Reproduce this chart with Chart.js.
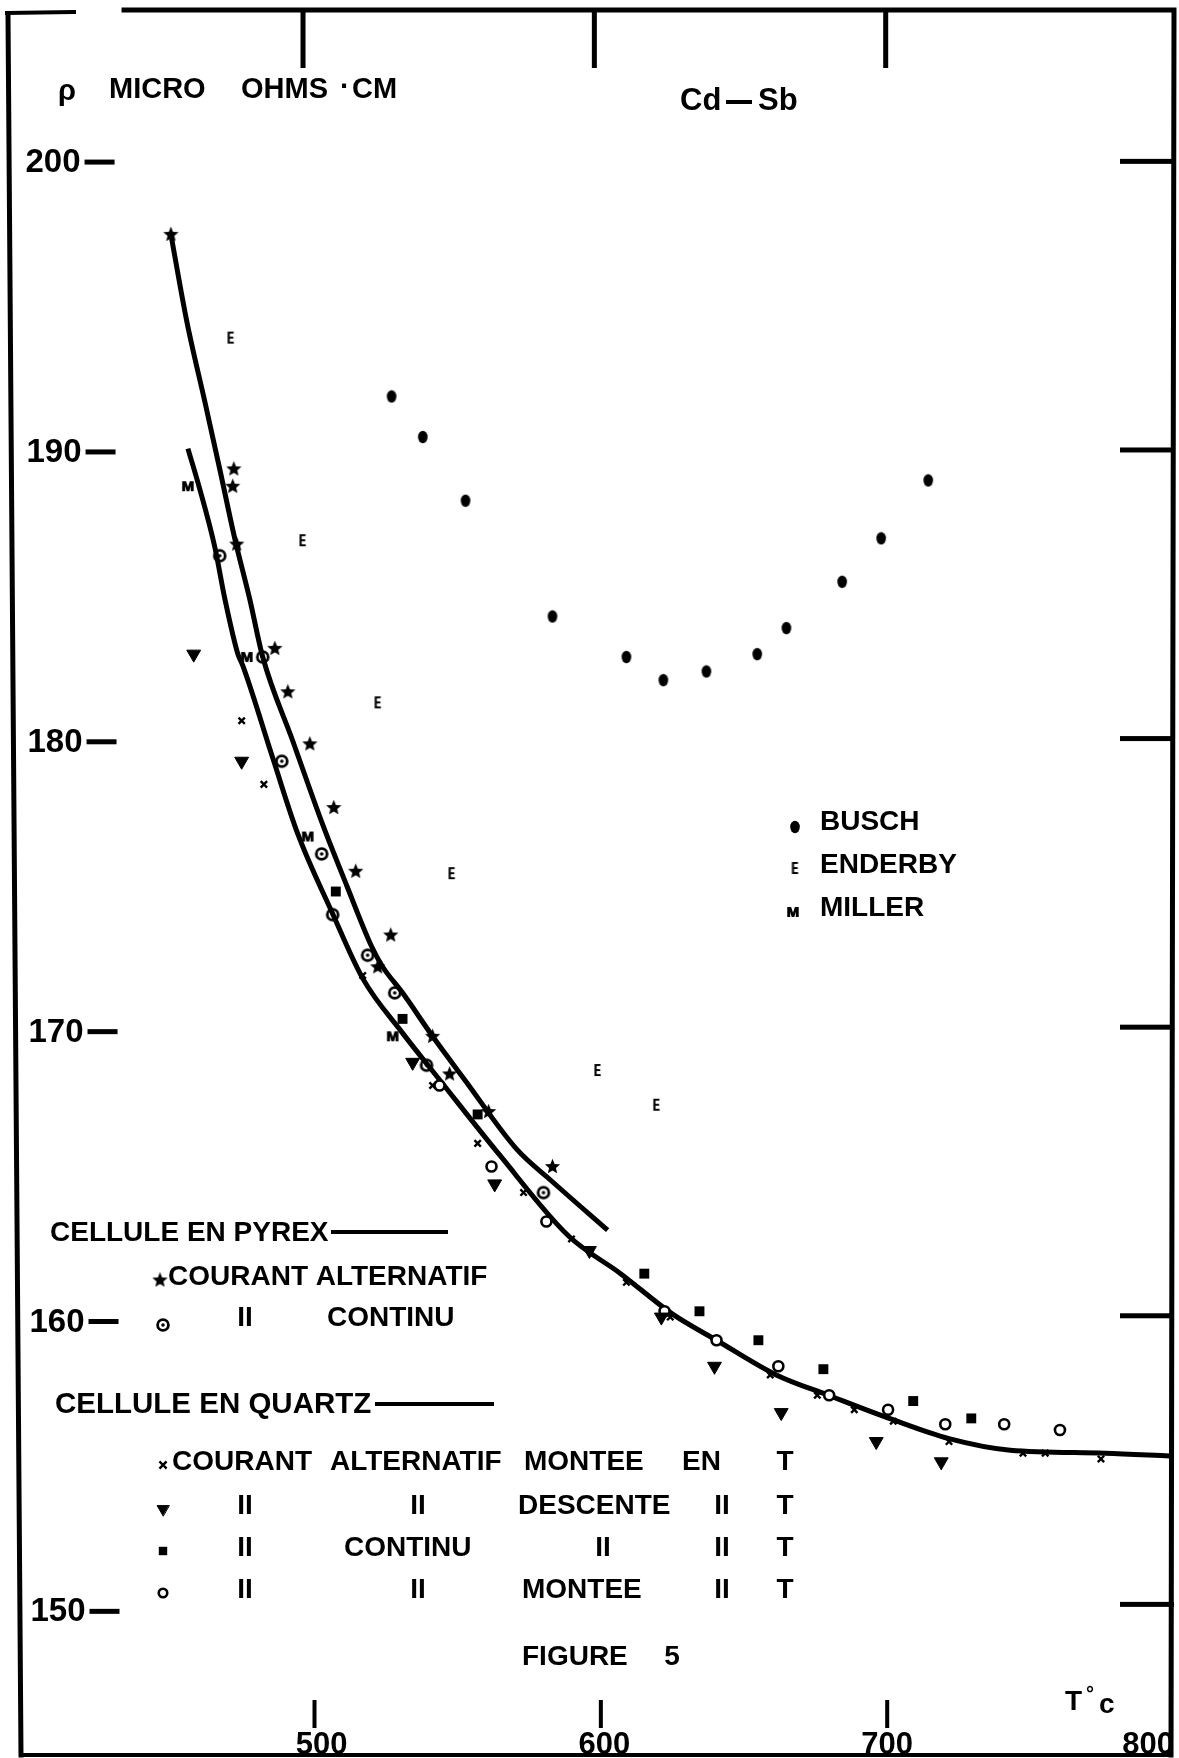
<!DOCTYPE html>
<html>
<head>
<meta charset="utf-8">
<script src="https://cdn.jsdelivr.net/npm/chart.js@4.4.1/dist/chart.umd.min.js"></script>
<style>
  html, body { margin: 0; padding: 0; background: #fff; }
  #wrap { position: relative; width: 1179px; height: 1758px; }
</style>
</head>
<body>
<div id="wrap"><canvas id="fig" width="1179" height="1758"></canvas></div>
<script>
// Cd-Sb resistivity (micro ohm cm) against temperature (deg C)

const xTicks = [500, 600, 700, 800];
const yTicks = [150, 160, 170, 180, 190, 200];

// drawn curves
const pyrexCurveT   = [452.7, 458.2, 464.5, 469.6, 474.8, 480.0, 484.5, 494.9, 505.3, 513.6, 522.2, 526.0, 532.9, 543.3, 554.4, 572.4, 584.5, 603.9];
const pyrexCurveRho = [197.6, 194.6, 191.8, 189.5, 187.1, 185.0, 183.0, 180.1, 177.2, 175.1, 173.0, 172.3, 171.4, 169.9, 168.4, 166.0, 164.9, 163.2];

const quartzCurveT   = [458.6, 462.7, 467.9, 471.4, 475.9, 477.6, 488.0, 496.6, 508.4, 519.1, 533.0, 545.7, 566.5, 590.4, 608.4, 626.4, 641.6, 662.3, 680.3, 701.4, 722.1, 743.3, 776.1, 798.5];
const quartzCurveRho = [190.2, 188.8, 186.8, 185.0, 183.1, 182.7, 179.5, 176.9, 174.2, 171.9, 170.0, 168.4, 165.8, 163.0, 161.7, 160.3, 159.4, 158.2, 157.5, 156.7, 156.0, 155.6, 155.5, 155.4];

// pyrex cell
const pyrexAcT   = [452.7, 474.5, 474.1, 475.5, 488.7, 493.2, 500.8, 509.1, 516.7, 528.8, 524.3, 543.3, 549.2, 562.7, 584.8];
const pyrexAcRho = [197.6, 189.5, 188.9, 186.9, 183.3, 181.8, 180.0, 177.8, 175.6, 173.4, 172.3, 169.9, 168.6, 167.3, 165.4];
const pyrexDcT   = [469.6, 484.5, 491.1, 504.9, 508.7, 520.8, 530.2, 541.2, 581.7];
const pyrexDcRho = [186.5, 183.0, 179.4, 176.2, 174.1, 172.7, 171.4, 168.9, 164.5];

// quartz cell
const quartzAcUpT     = [477.2, 484.9, 519.1, 543.3, 558.9, 574.8, 591.4, 610.4, 625.6, 660.2, 676.5, 689.3, 702.8, 722.1, 747.7, 755.4, 774.7];
const quartzAcUpRho   = [180.8, 178.6, 172.0, 168.2, 166.2, 164.5, 162.9, 161.4, 160.2, 158.2, 157.5, 157.0, 156.6, 155.9, 155.5, 155.5, 155.3];
const quartzAcDownT   = [460.6, 477.2, 536.4, 564.8, 597.6, 622.5, 640.9, 664.0, 696.9, 719.4];
const quartzAcDownRho = [183.1, 179.4, 169.0, 164.8, 162.5, 160.2, 158.5, 156.9, 155.9, 155.2];
const quartzDcT       = [509.8, 532.9, 558.9, 616.6, 635.7, 656.1, 678.6, 709.7, 729.8];
const quartzDcRho     = [174.9, 170.5, 167.2, 161.7, 160.4, 159.4, 158.4, 157.3, 156.7];
const quartzDcUpT     = [545.7, 563.7, 582.7, 623.6, 641.6, 663.0, 680.6, 701.0, 720.8, 741.2, 760.5];
const quartzDcUpRho   = [168.2, 165.4, 163.5, 160.4, 159.4, 158.5, 157.5, 157.0, 156.5, 156.5, 156.3];

// other authors
const buschT     = [529.1, 539.9, 554.7, 584.8, 610.4, 623.2, 638.1, 655.7, 665.8, 685.1, 698.6, 714.9];
const buschRho   = [192.0, 190.6, 188.4, 184.4, 183.0, 182.2, 182.5, 183.1, 184.0, 185.6, 187.1, 189.1];
const enderbyT   = [473.4, 498.3, 524.3, 549.9, 600.4, 620.8];
const enderbyRho = [194.0, 187.0, 181.4, 175.5, 168.7, 167.5];
const millerT    = [458.6, 479.0, 500.1, 529.5];
const millerRho  = [188.9, 183.0, 176.8, 169.9];

const FONT = '"Liberation Sans", Arial, sans-serif';

function pts(xs, ys) {
    return xs.map((t, i) => ({ x: t, y: ys[i] }));
}

function marker(w, h, draw) {
    const c = document.createElement('canvas');
    c.width = w;
    c.height = h;
    const g = c.getContext('2d');
    g.fillStyle = '#000';
    g.strokeStyle = '#000';
    draw(g, w, h);
    return c;
}

// letter markers get a second pass one pixel over so they read as heavy as the print
function letterMark(g, ch, size, sx, cx, cy) {
    g.font = 'bold ' + size + 'px ' + FONT;
    g.textAlign = 'center';
    g.textBaseline = 'middle';
    g.scale(sx, 1);
    g.fillText(ch, cx / sx, cy);
    g.fillText(ch, (cx + 0.8) / sx, cy);
}

const starImg = marker(17, 17, (g) => {
    g.beginPath();
    for (let i = 0; i < 10; i++) {
        const r = i % 2 ? 3.6 : 8;
        const a = -Math.PI / 2 + i * Math.PI / 5;
        g.lineTo(8.5 + r * Math.cos(a), 8.8 + r * Math.sin(a));
    }
    g.closePath();
    g.fill();
});
const circDotImg = marker(16, 16, (g) => {
    g.lineWidth = 2.8;
    g.beginPath(); g.arc(8, 8, 5.4, 0, Math.PI * 2); g.stroke();
    g.beginPath(); g.arc(8, 8, 1.8, 0, Math.PI * 2); g.fill();
});
const buschImg = marker(12, 14, (g) => {
    g.beginPath(); g.ellipse(6, 7, 4.8, 6.2, 0, 0, Math.PI * 2); g.fill();
});
const enderbyImg = marker(11, 16, (g) => letterMark(g, 'E', 16, 0.62, 5, 8.5));
const millerImg = marker(18, 16, (g) => letterMark(g, 'M', 15, 1, 8.6, 8.5));

const markerSets = [
    { data: pts(pyrexAcT, pyrexAcRho), pointStyle: starImg },
    { data: pts(pyrexDcT, pyrexDcRho), pointStyle: circDotImg },
    { data: pts(quartzAcUpT, quartzAcUpRho), pointStyle: 'crossRot', pointRadius: 4.5, pointBorderWidth: 2.4 },
    { data: pts(quartzAcDownT, quartzAcDownRho), pointStyle: 'triangle', pointRotation: 180, pointRadius: 8, pointBorderWidth: 1 },
    { data: pts(quartzDcT, quartzDcRho), pointStyle: 'rect', pointRadius: 7, pointBorderWidth: 0 },
    { data: pts(quartzDcUpT, quartzDcUpRho), pointStyle: 'circle', pointRadius: 5, pointBorderWidth: 2.6, pointBackgroundColor: '#fff' },
    { data: pts(buschT, buschRho), pointStyle: buschImg },
    { data: pts(enderbyT, enderbyRho), pointStyle: enderbyImg },
    { data: pts(millerT, millerRho), pointStyle: millerImg }
].map(d => Object.assign({
    showLine: false,
    order: 1,
    pointRadius: 6,
    pointBorderWidth: 0,
    pointBackgroundColor: '#000',
    pointBorderColor: '#000'
}, d));

const curveSets = [
    pts(pyrexCurveT, pyrexCurveRho),
    pts(quartzCurveT, quartzCurveRho)
].map(data => ({
    data: data,
    showLine: true,
    order: 2,
    borderColor: '#000',
    borderWidth: 5,
    pointRadius: 0,
    cubicInterpolationMode: 'monotone'
}));

function text(ctx, s, x, y, size, align) {
    ctx.font = 'bold ' + size + 'px ' + FONT;
    ctx.textAlign = align || 'left';
    ctx.textBaseline = 'middle';
    ctx.fillText(s, x, y);
}

function legendMark(ctx, ds, x, y) {
    if (typeof ds.pointStyle === 'object') {
        const img = ds.pointStyle;
        ctx.drawImage(img, x - img.width / 2, y - img.height / 2);
        return;
    }
    ctx.save();
    ctx.fillStyle = ds.pointBackgroundColor;
    ctx.strokeStyle = '#000';
    ctx.lineWidth = ds.pointBorderWidth;
    Chart.helpers.drawPoint(ctx, {
        pointStyle: ds.pointStyle,
        radius: ds.pointRadius * 0.85,
        rotation: ds.pointRotation || 0,
        borderWidth: ds.pointBorderWidth
    }, x, y);
    ctx.restore();
}

// axis frame, tick marks, labels and the hand-lettered legend
const figureDecor = {
    id: 'figureDecor',
    afterDraw(chart) {
        const ctx = chart.ctx;
        const xs = chart.scales.x;
        const ys = chart.scales.y;
        ctx.save();
        ctx.fillStyle = '#000';
        ctx.strokeStyle = '#000';

        // y ticks: label + dash on the left, short bar on the right (scan is slightly skewed)
        yTicks.forEach(v => {
            const py = ys.getPixelForValue(v);
            const sh = 6 * py / 1758;
            const yl = py - 3 + 2 * py / 1618;
            const yr = py - 3 - 5 * py / 1618;
            text(ctx, String(v), 80 + sh, yl + 1, 33, 'right');
            ctx.fillRect(84 + sh, yl - 2.5, 30, 5);
            ctx.fillRect(1120, yr - 2.5, 54, 5);
        });

        // x ticks: bars hanging from the top, short bars and labels at the bottom
        xTicks.forEach(t => {
            const px = xs.getPixelForValue(t);
            const d = t - 500;
            if (t < 800) {
                ctx.fillRect(px - 4.5 + d * 0.025 - 2.5, 10, 5, 58);
                ctx.fillRect(px + 7 - d * 0.025 - 2, 1700, 4, 28);
                text(ctx, String(t), px + 14 - d * 0.06, 1745, 31, 'center');
            } else {
                text(ctx, String(t), px - 26, 1745, 31, 'center');
            }
        });

        // frame
        ctx.lineCap = 'square';
        ctx.lineWidth = 5;
        ctx.beginPath();
        ctx.moveTo(8, 14); ctx.lineTo(21, 1755);
        ctx.moveTo(1174, 11); ctx.lineTo(1171, 1755);
        ctx.moveTo(124, 10); ctx.lineTo(1174, 10);
        ctx.stroke();
        ctx.lineWidth = 4;
        ctx.beginPath();
        ctx.moveTo(7, 13); ctx.lineTo(74, 12);
        ctx.moveTo(21, 1755); ctx.lineTo(1171, 1755);
        ctx.stroke();

        // titles
        text(ctx, 'ρ', 58, 92, 29);
        text(ctx, 'MICRO', 109, 90, 29);
        text(ctx, 'OHMS', 241, 90, 29);
        text(ctx, '·', 340, 88, 29);
        text(ctx, 'CM', 352, 90, 29);
        text(ctx, 'Cd', 680, 101, 31);
        ctx.fillRect(726, 100, 26, 4);
        text(ctx, 'Sb', 758, 101, 31);

        // other authors legend
        const [pAc, pDc, qAcUp, qAcDown, qDc, qDcUp, busch, enderby, miller] = markerSets;
        legendMark(ctx, busch, 795, 827);
        text(ctx, 'BUSCH', 820, 822, 28);
        legendMark(ctx, enderby, 795, 869);
        text(ctx, 'ENDERBY', 820, 865, 28);
        legendMark(ctx, miller, 793, 912);
        text(ctx, 'MILLER', 820, 908, 28);

        // pyrex legend
        text(ctx, 'CELLULE EN PYREX', 50, 1233, 28);
        ctx.fillRect(331, 1230, 117, 4);
        legendMark(ctx, pAc, 160, 1280);
        text(ctx, 'COURANT ALTERNATIF', 168, 1277, 28);
        legendMark(ctx, pDc, 163, 1325);
        text(ctx, 'II', 245, 1318, 28, 'center');
        text(ctx, 'CONTINU', 327, 1318, 28);

        // quartz legend
        text(ctx, 'CELLULE EN QUARTZ', 55, 1405, 29.5);
        ctx.fillRect(375, 1402, 119, 4);
        const rows = [
            [qAcUp, 1462, [['COURANT', 172], ['ALTERNATIF', 330], ['MONTEE', 524], ['EN', 682]]],
            [qAcDown, 1506, [['II', 245, 'c'], ['II', 418, 'c'], ['DESCENTE', 518], ['II', 722, 'c']]],
            [qDc, 1548, [['II', 245, 'c'], ['CONTINU', 344], ['II', 603, 'c'], ['II', 722, 'c']]],
            [qDcUp, 1590, [['II', 245, 'c'], ['II', 418, 'c'], ['MONTEE', 522], ['II', 722, 'c']]]
        ];
        rows.forEach(([ds, y, words]) => {
            legendMark(ctx, ds, 163, y + 3);
            words.forEach(([w, x, a]) => text(ctx, w, x, y, 28, a ? 'center' : 'left'));
            text(ctx, 'T', 785, y, 28, 'center');
        });

        text(ctx, 'FIGURE', 522, 1657, 28);
        text(ctx, '5', 672, 1657, 28, 'center');
        text(ctx, 'T', 1065, 1702, 28);
        text(ctx, '°', 1086, 1694, 20);
        text(ctx, 'c', 1099, 1705, 28);
        ctx.restore();
    }
};

new Chart(document.getElementById('fig'), {
    type: 'scatter',
    data: { datasets: markerSets.concat(curveSets) },
    options: {
        responsive: false,
        maintainAspectRatio: false,
        devicePixelRatio: 1,
        animation: false,
        events: [],
        layout: { padding: { left: 10, top: 10, right: 4, bottom: 3 } },
        plugins: { legend: { display: false }, tooltip: { enabled: false } },
        scales: {
            x: { type: 'linear', min: 397, max: 798.6, display: false },
            y: { type: 'linear', min: 145.28, max: 205.35, display: false }
        }
    },
    plugins: [figureDecor]
});
</script>
</body>
</html>
